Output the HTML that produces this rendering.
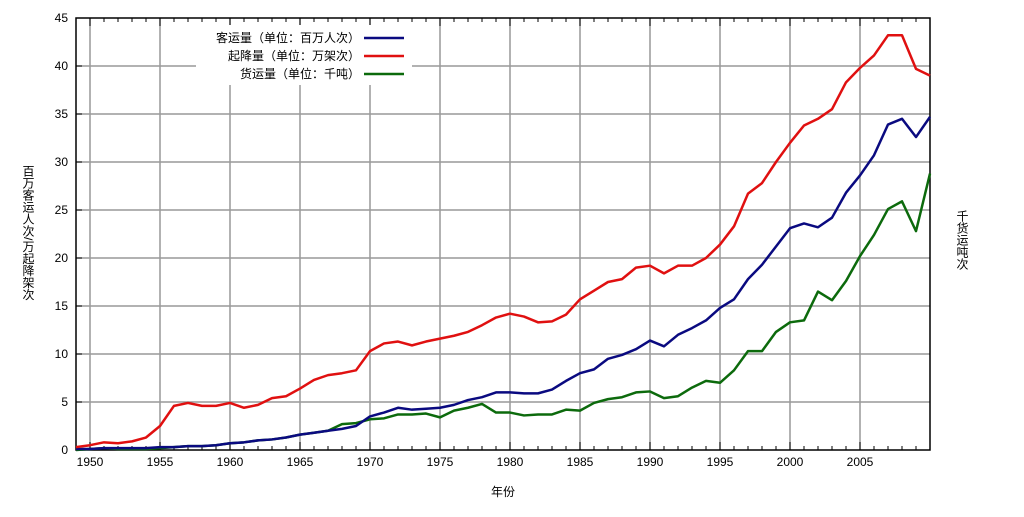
<!DOCTYPE html>
<html><head><meta charset="utf-8"><style>
body{margin:0;background:#fff;font-family:"Liberation Sans","Noto Sans CJK SC",sans-serif}
svg text{font-family:"Liberation Sans","Noto Sans CJK SC",sans-serif;font-size:12px;fill:#000}
</style></head><body>
<svg id="chart" width="1024" height="512" xmlns="http://www.w3.org/2000/svg">
<g id="grid"></g>
<g id="axes"></g>
<g id="series"></g>
<g id="legend"></g>
<text x="503" y="496" text-anchor="middle">年份</text>
<text x="28" y="165" style="writing-mode:tb" >百万客运人次/万起降架次</text>
<text x="962" y="210" style="writing-mode:tb">千货运吨次</text>
</svg>
<script>
const years=[];for(let y=1949;y<=2010;y++)years.push(y);
const flights=[0.3,0.5,0.8,0.7,0.9,1.3,2.5,4.6,4.9,4.6,4.6,4.9,4.4,4.7,5.4,5.6,6.4,7.3,7.8,8.0,8.3,10.3,11.1,11.3,10.9,11.3,11.6,11.9,12.3,13.0,13.8,14.2,13.9,13.3,13.4,14.1,15.7,16.6,17.5,17.8,19.0,19.2,18.4,19.2,19.2,20.0,21.4,23.3,26.7,27.8,30.0,32.0,33.8,34.5,35.5,38.3,39.8,41.1,43.2,43.2,39.7,39.0];
const passengers=[0.1,0.1,0.2,0.2,0.2,0.2,0.3,0.3,0.4,0.4,0.5,0.7,0.8,1.0,1.1,1.3,1.6,1.8,2.0,2.2,2.5,3.5,3.9,4.4,4.2,4.3,4.4,4.7,5.2,5.5,6.0,6.0,5.9,5.9,6.3,7.2,8.0,8.4,9.5,9.9,10.5,11.4,10.8,12.0,12.7,13.5,14.8,15.7,17.8,19.3,21.2,23.1,23.6,23.2,24.2,26.8,28.6,30.7,33.9,34.5,32.6,34.7];
const cargo=[0.0,0.1,0.2,0.1,0.1,0.1,0.2,0.3,0.4,0.4,0.5,0.7,0.8,1.0,1.1,1.3,1.6,1.8,2.0,2.7,2.8,3.2,3.3,3.7,3.7,3.8,3.4,4.1,4.4,4.8,3.9,3.9,3.6,3.7,3.7,4.2,4.1,4.9,5.3,5.5,6.0,6.1,5.4,5.6,6.5,7.2,7.0,8.3,10.3,10.3,12.3,13.3,13.5,16.5,15.6,17.6,20.2,22.4,25.1,25.9,22.8,28.8];
const yTicks=[0,5,10,15,20,25,30,35,40,45];
const xTicks=[1950,1955,1960,1965,1970,1975,1980,1985,1990,1995,2000,2005];
const X0=76,X1=930,Y0=450,Y1=18;
const xs=v=>X0+(v-1949)/(2010-1949)*(X1-X0);
const ys=v=>Y0-v/45*(Y0-Y1);
const NS="http://www.w3.org/2000/svg";
function mk(tag,at,parent){const e=document.createElementNS(NS,tag);for(const k in at)e.setAttribute(k,at[k]);parent.appendChild(e);return e;}
const grid=document.getElementById('grid'),axes=document.getElementById('axes'),ser=document.getElementById('series'),leg=document.getElementById('legend');
yTicks.forEach(t=>{
 if(t>0&&t<45){const l=mk('line',{x1:X0,x2:X1,y1:ys(t),y2:ys(t),stroke:'#999','stroke-width':1.5},grid);
 
 }
 const tk=mk('line',{x1:X0,x2:X0+6,y1:ys(t),y2:ys(t),stroke:'#000'},axes);
 const tx=mk('text',{x:X0-8,y:ys(t)+4,'text-anchor':'end'},axes);tx.textContent=t;
 
 
});
xTicks.forEach(t=>{
 const l=mk('line',{x1:xs(t),x2:xs(t),y1:Y0,y2:Y1,stroke:'#999','stroke-width':1.5},grid);
 
 
 const tx=mk('text',{x:xs(t),y:Y0+16,'text-anchor':'middle'},axes);tx.textContent=t;
 
 
});
years.forEach(y=>{const big=y%5==0?8:4;
 mk('line',{x1:xs(y),x2:xs(y),y1:Y0,y2:Y0-big,stroke:'#000'},axes);
 mk('line',{x1:xs(y),x2:xs(y),y1:Y1,y2:Y1+big,stroke:'#000'},axes);});
const fr=mk('rect',{x:X0,y:Y1,width:X1-X0,height:Y0-Y1,fill:'none',stroke:'#000','stroke-width':1.5},axes);


function line(data,color,name){const p=mk('polyline',{points:data.map((v,i)=>xs(years[i])+','+ys(v)).join(' '),fill:'none',stroke:color,'stroke-width':2.5,'stroke-linejoin':'round'},ser);
 
 }
line(cargo,'#0c6a0c','cargo-line');
line(passengers,'#0a0a80','passenger-line');
line(flights,'#e01010','flights-line');
mk('rect',{x:196,y:25,width:216,height:60,fill:'#fff'},leg);
const L=[['客运量（单位：百万人次）','#0a0a80'],['起降量（单位：万架次）','#e01010'],['货运量（单位：千吨）','#0c6a0c']];
L.forEach((d,i)=>{const y=38+i*18;
 const t=mk('text',{x:360,y:y+4,'text-anchor':'end'},leg);t.textContent=d[0];
 
 
 mk('line',{x1:364,x2:404,y1:y,y2:y,stroke:d[1],'stroke-width':2.5},leg);});
</script>
</body></html>
